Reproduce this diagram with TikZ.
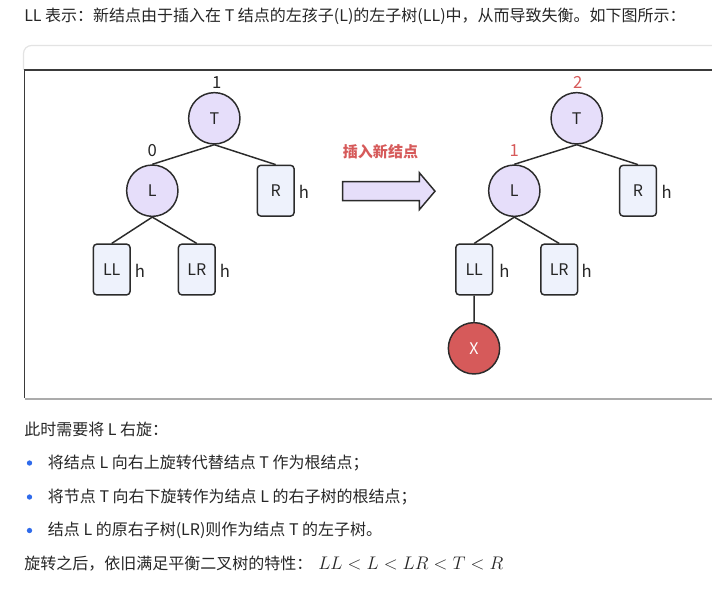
\documentclass[tikz,border=0pt]{standalone}
\usepackage{graphicx}
\usepackage[no-math]{fontspec}
\setmainfont{Noto Sans CJK SC}
\definecolor{textgray}{HTML}{262626}
\definecolor{edgegray}{HTML}{2B2B2B}
\definecolor{nodepurple}{HTML}{E6DEFA}
\definecolor{subtreeblue}{HTML}{EEF2FC}
\definecolor{warnred}{HTML}{D65A5A}
\definecolor{bulletblue}{HTML}{2F6BEB}
\definecolor{framegray}{HTML}{E3E3E3}
\definecolor{frameline}{HTML}{3A3A3A}
\definecolor{framebottom}{HTML}{ABABAB}

\begin{document}
\begin{tikzpicture}[x=0.75pt,y=-0.75pt,
    treenode/.style={circle,draw=edgegray,line width=1.1pt,fill=nodepurple,minimum size=38.5pt,inner sep=0pt,text=textgray,font=\fontsize{12pt}{14pt}\selectfont},
    newnode/.style={treenode,fill=warnred,text=white},
    subtree/.style={rectangle,rounded corners=2.5pt,draw=edgegray,line width=1.1pt,fill=subtreeblue,minimum width=27.5pt,minimum height=38pt,inner sep=0pt,text=textgray,font=\fontsize{12pt}{14pt}\selectfont},
    factor/.style={text=textgray,inner sep=0pt,font=\fontsize{12.5pt}{14pt}\selectfont},
    redfactor/.style={factor,text=warnred},
    height/.style={text=textgray,inner sep=0pt,font=\fontsize{12.5pt}{15pt}\selectfont},
    para/.style={anchor=west,text=textgray,inner sep=0pt,font=\fontsize{12pt}{14pt}\selectfont},
    link/.style={draw=edgegray,line width=1.1pt}]
\useasboundingbox (0,0) rectangle (712,588);

\node[para] (intro) at (24,16) {LL 表示：新结点由于插入在 T 结点的左孩子(L)的左子树(LL)中，从而导致失衡。如下图所示：};

\draw[framegray,line width=0.9pt] (23.5,70) -- (23.5,53.5) arc[start angle=180,end angle=270,radius=8] -- (713,45.5);
\draw[frameline,line width=1.2pt] (713,70) -- (24.5,70) -- (24.5,398);
\draw[framebottom,line width=1.5pt] (24.5,398.5) -- (713,398.5);

\node[treenode] (T1) at (214.3,118.3) {T};
\node[treenode] (L1) at (152.3,190.7) {L};
\node[subtree] (R1) at (275.7,190.7) {R};
\node[subtree] (LL1) at (111.7,269.5) {LL};
\node[subtree] (LR1) at (196.8,269.5) {LR};
\node[factor] (bfT1) at (216.7,82.7) {1};
\node[factor] (bfL1) at (152.3,150.7) {0};
\node[height] (hR1) at (304,191.5) {h};
\node[height] (hLL1) at (140,270.7) {h};
\node[height] (hLR1) at (225,270.7) {h};
\draw[link] (T1.south) -- (L1.north);
\draw[link] (T1.south) -- (R1.north);
\draw[link] (L1.south) -- (LL1.north);
\draw[link] (L1.south) -- (LR1.north);

\node[text=warnred,inner sep=0pt,font=\fontsize{11.3pt}{13pt}\selectfont\bfseries] (insert) at (380.5,151.7) {插入新结点};
\filldraw[fill=nodepurple,draw=edgegray,line width=1.1pt] (342.7,181.7) -- (419.3,181.7) -- (419.3,172.7) -- (435,191.2) -- (419.3,209.7) -- (419.3,200.7) -- (342.7,200.7) -- cycle;

\node[treenode] (T2) at (576.7,118.3) {T};
\node[treenode] (L2) at (514.3,190.7) {L};
\node[subtree] (R2) at (638,190.7) {R};
\node[subtree] (LL2) at (474.2,269.5) {LL};
\node[subtree] (LR2) at (559.2,269.5) {LR};
\node[newnode] (X2) at (474,348.3) {X};
\node[redfactor] (bfT2) at (577.7,82.7) {2};
\node[redfactor] (bfL2) at (514.3,150.7) {1};
\node[height] (hR2) at (666.7,191.5) {h};
\node[height] (hLL2) at (504.3,270.7) {h};
\node[height] (hLR2) at (586.7,270.7) {h};
\draw[link] (T2.south) -- (L2.north);
\draw[link] (T2.south) -- (R2.north);
\draw[link] (L2.south) -- (LL2.north);
\draw[link] (L2.south) -- (LR2.north);
\draw[link] (LL2.south) -- (X2.north);

\node[para] (rotate) at (24,429) {此时需要将 L 右旋：};
\fill[bulletblue] (29.5,463) circle (2pt);
\fill[bulletblue] (29.5,497) circle (2pt);
\fill[bulletblue] (29.5,530.5) circle (2pt);
\node[para] (step1) at (47.7,463) {将结点 L 向右上旋转代替结点 T 作为根结点；};
\node[para] (step2) at (47.7,497) {将节点 T 向右下旋转作为结点 L 的右子树的根结点；};
\node[para] (step3) at (47.7,530.5) {结点 L 的原右子树(LR)则作为结点 T 的左子树。};
\node[para] (after) at (24,564) {旋转之后，依旧满足平衡二叉树的特性：};
\node[para] (order) at (318,564) {\scalebox{1.14}{$LL < L < LR < T < R$}};
\end{tikzpicture}
\end{document}
